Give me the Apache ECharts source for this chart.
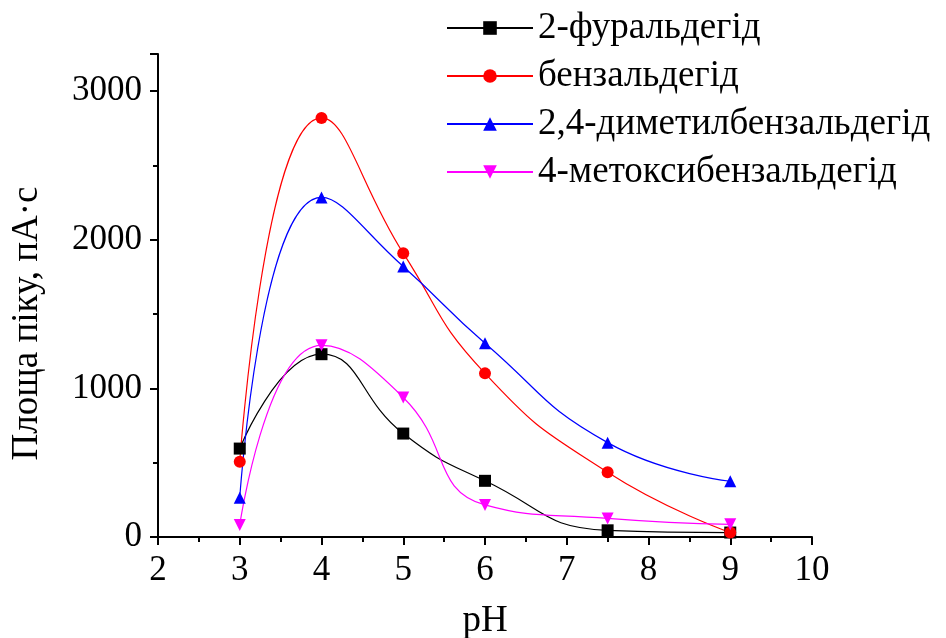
<!DOCTYPE html>
<html>
<head>
<meta charset="utf-8">
<script src="https://cdn.jsdelivr.net/npm/echarts@6/dist/echarts.min.js"></script>
<style>
  html, body { margin: 0; padding: 0; background: #fff; }
  #main { width: 946px; height: 638px; }
</style>
</head>
<body>
<div id="main"></div>
<script>
// pH values
const ph = [3, 4, 5, 6, 7.5, 9];
const seriesNames = ["2-фуральдегід", "бензальдегід", "2,4-диметилбензальдегід", "4-метоксибензальдегід"];
const furfural = [595, 1230, 696, 378, 45, 30];
const benzaldehyde = [507, 2820, 1910, 1101, 435, 30];
const dimethylBenz = [264, 2285, 1820, 1304, 635, 375];
const methoxyBenz = [81, 1290, 939, 216, 125, 85];

const font = "'Liberation Serif', 'Times New Roman', serif";

const makeSeries = (name, values, color, symbol, rotate) => ({
	name: name,
	type: "line",
	smooth: 0.5,
	data: ph.map((x, i) => [x, values[i]]),
	symbol: symbol,
	symbolSize: 12,
	symbolRotate: rotate || 0,
	lineStyle: { color: color, width: 1.2 },
	itemStyle: { color: color },
	z: 3
});

const chart = echarts.init(document.getElementById("main"));
const option = {
	animation: false,
	backgroundColor: "#fff",
	textStyle: { fontFamily: font },
	grid: { left: 158, right: 134, top: 54, bottom: 101, outerBoundsMode: "none", containLabel: false },
	legend: {
		orient: "vertical",
		left: 441,
		top: 3,
		itemWidth: 86,
		itemHeight: 17,
		itemGap: 8,
		textStyle: { fontFamily: font, fontSize: 37, lineHeight: 40, color: "#000", padding: [0, 0, 0, 0] },
		data: seriesNames
	},
	xAxis: {
		type: "value",
		min: 2,
		max: 10,
		interval: 1,
		name: "pH",
		nameLocation: "middle",
		nameGap: 66,
		nameTextStyle: { fontFamily: font, fontSize: 37, color: "#000" },
		axisLine: { onZero: false, lineStyle: { color: "#000", width: 2 } },
		axisTick: { inside: false, length: 8, lineStyle: { color: "#000", width: 2 } },
		minorTick: { show: true, splitNumber: 2, length: 5, lineStyle: { color: "#000", width: 2 } },
		axisLabel: { fontFamily: font, fontSize: 35, color: "#000", margin: 16 },
		splitLine: { show: false }
	},
	yAxis: {
		type: "value",
		min: 0,
		max: 3250,
		interval: 1000,
		name: "Площа піку, пА·с",
		nameLocation: "middle",
		nameGap: 112,
		nameTextStyle: { fontFamily: font, fontSize: 37, color: "#000", padding: [0, 56, 0, 0] },
		axisLine: { show: true, onZero: false, lineStyle: { color: "#000", width: 2 } },
		axisTick: { inside: false, length: 8, lineStyle: { color: "#000", width: 2 } },
		minorTick: { show: true, splitNumber: 2, length: 5, lineStyle: { color: "#000", width: 2 } },
		axisLabel: { fontFamily: font, fontSize: 35, color: "#000", margin: 16, showMaxLabel: false, formatter: (v) => String(v) },
		splitLine: { show: false }
	},
	series: [
		makeSeries(seriesNames[0], furfural, "#000000", "rect"),
		makeSeries(seriesNames[1], benzaldehyde, "#ff0000", "circle"),
		makeSeries(seriesNames[2], dimethylBenz, "#0000ff", "triangle"),
		makeSeries(seriesNames[3], methoxyBenz, "#ff00ff", "triangle", 180)
	]
};
chart.setOption(option);
</script>
</body>
</html>
